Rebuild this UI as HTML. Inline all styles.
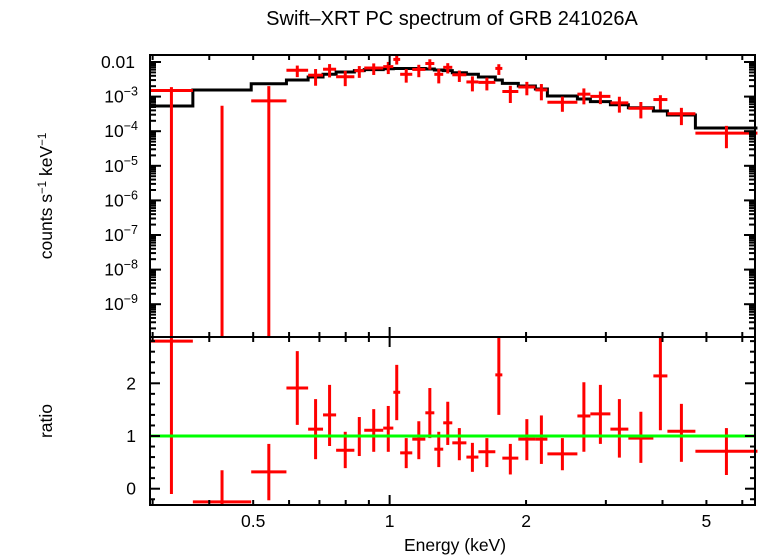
<!DOCTYPE html>
<html><head><meta charset="utf-8">
<style>
html,body{margin:0;padding:0;background:#fff;width:758px;height:556px;overflow:hidden}
svg{display:block;font-family:"Liberation Sans",sans-serif}
</style></head>
<body>
<svg id="chart" width="758" height="556" viewBox="0 0 758 556" xmlns="http://www.w3.org/2000/svg">
<text x="452" y="25" font-size="20" text-anchor="middle">Swift–XRT PC spectrum of GRB 241026A</text>
<g id="topG"></g>
<g id="botG"></g>
<text transform="translate(52,196) rotate(-90)" font-size="17.5" text-anchor="middle">counts s<tspan dy="-6" font-size="11.5">−1</tspan><tspan dy="6"> keV</tspan><tspan dy="-6" font-size="11.5">−1</tspan></text>
<text transform="translate(52,421) rotate(-90)" font-size="17.5" text-anchor="middle">ratio</text>
<text x="455" y="551" font-size="17.5" text-anchor="middle">Energy (keV)</text>
</svg>
<script>
// bin edges (keV)
const binEdges = [0.296,0.368,0.495,0.592,0.661,0.713,0.762,0.836,0.879,0.968,1.019,1.055,1.122,1.199,1.255,1.313,1.375,1.477,1.570,1.711,1.773,1.923,2.097,2.229,2.596,2.773,3.070,3.363,3.819,4.101,4.728,6.48];
// model (counts/s/keV)
const modelValues = [5.35e-4,1.55e-3,2.36e-3,3.02e-3,3.68e-3,4.42e-3,5.14e-3,5.61e-3,6.03e-3,6.40e-3,6.49e-3,6.49e-3,6.49e-3,6.28e-3,5.87e-3,5.61e-3,4.91e-3,4.42e-3,3.68e-3,3.02e-3,2.42e-3,2.02e-3,1.66e-3,1.04e-3,8.53e-4,7.13e-4,5.83e-4,4.78e-4,3.84e-4,2.94e-4,1.24e-4];
// data/model ratio and its error bounds
const ratioValues = [2.80,-0.25,0.32,1.91,1.13,1.40,0.73,1.00,1.11,1.15,1.83,0.68,0.94,1.44,0.75,1.25,0.87,0.60,0.70,2.16,0.58,0.94,0.94,0.66,1.38,1.42,1.13,0.96,2.14,1.09,0.71];
const ratioHigh = [3.5,0.35,0.85,2.61,1.70,1.97,1.08,1.36,1.51,1.57,2.35,0.96,1.28,1.91,1.08,1.65,1.15,0.87,0.96,2.86,0.85,1.32,1.39,0.96,2.02,1.97,1.70,1.46,2.86,1.61,1.15];
const ratioLow = [-0.1,-1,-0.22,1.21,0.56,0.81,0.39,0.62,0.70,0.70,1.30,0.39,0.56,0.96,0.41,0.83,0.54,0.32,0.41,1.40,0.27,0.54,0.47,0.35,0.70,0.85,0.59,0.49,1.11,0.51,0.26];
const xTickLabels = [0.5,1,2,5];
const ratioTickLabels = [0,1,2];
const countTickExps = [-2,-3,-4,-5,-6,-7,-8,-9];

const NS="http://www.w3.org/2000/svg";
const L=150,R=755,T1=55,B1=337,B2=505;
const xLo=0.296,xHi=6.4;
const X=e=>L+(Math.log10(e)-Math.log10(xLo))/(Math.log10(xHi)-Math.log10(xLo))*(R-L);
const Y1=v=>62+34.6*(-2-Math.log10(v));
const Y2=r=>436-52.7*(r-1);
const clip1=y=>Math.max(T1,Math.min(B1,y));
const clip2=y=>Math.max(B1,Math.min(B2,y));
function mk(tag,attrs,parent){const el=document.createElementNS(NS,tag);for(const k in attrs)el.setAttribute(k,attrs[k]);parent.appendChild(el);return el;}
const topG=document.getElementById('topG'),botG=document.getElementById('botG');

// model step line
let d='';
modelValues.forEach((m,i)=>{const x0=X(binEdges[i]),x1=X(binEdges[i+1]),y=Y1(m);d+=(i?'L':'M')+x0+' '+y+'L'+x1+' '+y;});
let ml=mk('path',{d:d,fill:'none',stroke:'#000','stroke-width':3},topG);



// data points
ratioValues.forEach((r,i)=>{
  const x0=X(binEdges[i]),x1=X(binEdges[i+1]),xc=X(Math.sqrt(binEdges[i]*binEdges[i+1]));
  const m=modelValues[i];
  const g=mk('g',{stroke:'#f00','stroke-width':3},topG);
  
  
  const yh=ratioHigh[i]>0?clip1(Y1(m*ratioHigh[i])):B1;
  const yl=ratioLow[i]>0?clip1(Y1(m*ratioLow[i])):B1;
  mk('line',{x1:xc,x2:xc,y1:yh,y2:yl},g);
  if(r>0){const y=Y1(m*r);if(y<=B1)mk('line',{x1:x0,x2:x1,y1:y,y2:y},g);}
  const g2=mk('g',{stroke:'#f00','stroke-width':3},botG);
  
  
  mk('line',{x1:xc,x2:xc,y1:clip2(Y2(ratioHigh[i])),y2:clip2(Y2(ratioLow[i]))},g2);
  const yr=clip2(Y2(r));
  mk('line',{x1:x0,x2:x1,y1:yr,y2:yr},g2);
});
let gl=mk('line',{x1:L,x2:R,y1:Y2(1),y2:Y2(1),stroke:'#0f0','stroke-width':3},botG);



// frames
let f1=mk('rect',{x:L,y:T1,width:R-L,height:B1-T1,fill:'none',stroke:'#000','stroke-width':2},topG);


let f2=mk('rect',{x:L,y:B1,width:R-L,height:B2-B1,fill:'none',stroke:'#000','stroke-width':2},botG);



// x ticks
const ticksG=mk('g',{stroke:'#000','stroke-width':2},botG);


for(let dec=0.1;dec<=1.01;dec*=10){for(let k=1;k<10;k++){const e=k*dec;if(e<xLo||e>xHi)continue;const x=X(e);const len=k===1?10:5;
  [[T1,T1+len],[B1-len,B1+len],[B2-len,B2]].forEach(([a,b])=>mk('line',{x1:x,x2:x,y1:a,y2:b},ticksG));}}
xTickLabels.forEach(v=>{const t=mk('text',{x:X(v),y:527,'font-size':17.5,'text-anchor':'middle'},botG);t.textContent=String(v);
  
  });

// top y ticks
const yt=mk('g',{stroke:'#000','stroke-width':2},topG);


for(let ex=-10;ex<=-2;ex++){for(let k=1;k<10;k++){const v=k*Math.pow(10,ex);const y=Y1(v);if(y<T1||y>B1)continue;const len=k===1?11:6;
  mk('line',{x1:L,x2:L+len,y1:y,y2:y},yt);mk('line',{x1:R-len,x2:R,y1:y,y2:y},yt);}}
countTickExps.forEach(ex=>{const y=Y1(Math.pow(10,ex));
  const t=mk('text',{x:ex===-2?135:138,y:y+6,'font-size':17.5,'text-anchor':'end'},topG);
  
  
  if(ex===-2){t.textContent='0.01';}
  else{t.textContent='10';const s=mk('tspan',{dy:-7,'font-size':12.5},t);s.textContent='−'+(-ex);}
});

// ratio ticks
const rt=mk('g',{stroke:'#000','stroke-width':2},botG);


for(let i=-2;i<=14;i++){const r=i*0.2;const y=Y2(r);if(y<B1||y>B2)continue;const len=(i%5===0)?10:5;
  mk('line',{x1:L,x2:L+len,y1:y,y2:y},rt);mk('line',{x1:R-len,x2:R,y1:y,y2:y},rt);}
ratioTickLabels.forEach(v=>{const t=mk('text',{x:136,y:Y2(v)+6,'font-size':17.5,'text-anchor':'end'},botG);t.textContent=String(v);
  
  });
</script>
</body></html>
